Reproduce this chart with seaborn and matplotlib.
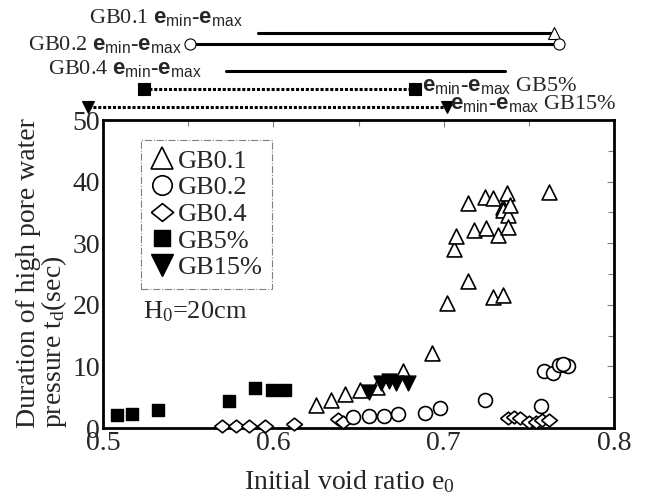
import matplotlib
matplotlib.use('Agg')
import matplotlib.pyplot as plt
import seaborn as sns
from matplotlib.lines import Line2D
from matplotlib.ticker import MultipleLocator

# Initial void ratio e0 / duration td (sec) for each sample
gb01_e = [0.625, 0.634, 0.642, 0.651, 0.661, 0.676, 0.693, 0.702, 0.706, 0.707,
          0.714, 0.714, 0.718, 0.724, 0.725, 0.729, 0.729, 0.732, 0.735, 0.735,
          0.735, 0.737, 0.738, 0.738, 0.739, 0.762]
gb01_t = [3.7, 4.5, 5.6, 6.2, 6.7, 9.2, 12.2, 20.3, 29.1, 31.2,
          36.5, 23.9, 32.1, 37.5, 32.5, 21.3, 37.3, 31.3, 21.6, 35.9,
          35.4, 38.1, 34.6, 32.6, 36.2, 38.3]

gb02_e = [0.647, 0.656, 0.665, 0.673, 0.689, 0.698, 0.724, 0.757, 0.759, 0.764,
          0.768, 0.771, 0.773, 0.770]
gb02_t = [1.8, 1.9, 1.9, 2.2, 2.5, 3.3, 4.5, 3.6, 9.2, 9.0,
          10.2, 10.2, 10.0, 10.4]

gb04_e = [0.570, 0.578, 0.586, 0.595, 0.612, 0.638, 0.641, 0.738, 0.741, 0.745,
          0.750, 0.754, 0.758, 0.762]
gb04_t = [0.3, 0.3, 0.3, 0.4, 0.6, 1.4, 0.9, 1.6, 1.8, 1.6,
          1.0, 1.0, 1.3, 1.3]

gb5_e = [0.508, 0.517, 0.532, 0.574, 0.589, 0.599, 0.607]
gb5_t = [2.1, 2.3, 2.9, 4.4, 6.5, 6.2, 6.2]

gb15_e = [0.656, 0.663, 0.668, 0.672, 0.679]
gb15_t = [5.8, 7.3, 7.6, 7.3, 7.3]

# e_min - e_max ranges shown above the chart
range_names = ['GB0.1', 'GB0.2', 'GB0.4', 'GB5%', 'GB15%']
e_min = [0.591, 0.551, 0.572, 0.524, 0.491]
e_max = [0.765, 0.768, 0.736, 0.683, 0.702]

sns.set_style('white')
plt.rcParams['font.family'] = ['Liberation Serif', 'DejaVu Serif']
plt.rcParams['mathtext.fontset'] = 'custom'
plt.rcParams['mathtext.rm'] = 'Liberation Serif'
plt.rcParams['mathtext.it'] = 'Liberation Serif:italic'
plt.rcParams['mathtext.sf'] = 'Liberation Sans'
plt.rcParams['mathtext.bf'] = 'Liberation Sans:bold'

fig = plt.figure(figsize=(6.48, 4.99), dpi=100)
ax = fig.add_axes([103 / 648, 71 / 499, 511 / 648, 308 / 499])

diamond = [(-1, 0), (0, 0.8), (1, 0), (0, -0.8), (-1, 0)]

# open / filled markers
sns.scatterplot(x=gb04_e, y=gb04_t, marker=diamond, s=130, color='white',
                edgecolor='black', linewidth=1.2, clip_on=False, zorder=3, ax=ax)
sns.scatterplot(x=gb02_e, y=gb02_t, marker='o', s=100, color='white',
                edgecolor='black', linewidth=1.2, clip_on=False, zorder=3, ax=ax)
sns.scatterplot(x=gb01_e, y=gb01_t, marker='^', s=115, color='white',
                edgecolor='black', linewidth=1.2, clip_on=False, zorder=3, ax=ax)
sns.scatterplot(x=gb5_e, y=gb5_t, marker='s', s=75, color='black',
                edgecolor='black', linewidth=1, clip_on=False, zorder=4, ax=ax)
sns.scatterplot(x=gb15_e, y=gb15_t, marker='v', s=115, color='black',
                edgecolor='black', linewidth=1, clip_on=False, zorder=4, ax=ax)

ax.set_xlim(0.5, 0.8)
ax.set_ylim(0, 50)
ax.xaxis.set_minor_locator(MultipleLocator(0.05))
ax.yaxis.set_major_locator(MultipleLocator(10))
ax.yaxis.set_minor_locator(MultipleLocator(5))
ax.set_xticks([0.5, 0.6, 0.7, 0.8])
ax.set_xticklabels(['0.5', '0.6', '0.7', '0.8'])
ax.tick_params(which='both', direction='in', top=True, right=True,
               color='gray', width=0.8, labelsize=20, pad=2)
ax.tick_params(which='major', length=5)
ax.tick_params(which='minor', length=4)
for sp in ax.spines.values():
    sp.set_linewidth(2)
    sp.set_color('black')

ax.set_xlabel('Initial void ratio e$_{\\rm 0}$', fontsize=20)
ax.xaxis.set_label_coords(0.483, -0.175)
ax.xaxis.label.set_va('center')
ax.text(-0.118, 0.0, 'Duration of high pore water\npressure t$_{\\rm d}$(sec)',
        rotation=90, transform=ax.transAxes, ha='center', va='bottom',
        multialignment='left', linespacing=0.9, fontsize=20)

# legend
handles = [
    Line2D([], [], ls='none', marker='^', ms=16, mfc='white', mec='black', mew=1.2),
    Line2D([], [], ls='none', marker='o', ms=14, mfc='white', mec='black', mew=1.2),
    Line2D([], [], ls='none', marker=diamond, ms=16, mfc='white', mec='black', mew=1.2),
    Line2D([], [], ls='none', marker='s', ms=11, mfc='black', mec='black'),
    Line2D([], [], ls='none', marker='v', ms=16, mfc='black', mec='black'),
]
leg = ax.legend(handles, range_names, loc='upper left', bbox_to_anchor=(0.074, 0.935),
                borderaxespad=0, fontsize=19, handlelength=0.9, handletextpad=0.15,
                labelspacing=0.12, borderpad=0.35, fancybox=False, framealpha=1)
leg.get_frame().set_edgecolor('gray')
leg.get_frame().set_linestyle('-.')
leg.get_frame().set_linewidth(0.8)

ax.text(0.078, 0.377, 'H$_{\\rm 0}$=20cm', transform=ax.transAxes,
        ha='left', va='center', fontsize=19)

# e_min - e_max range bars above the axes
levels = [64.1, 62.3, 58.0, 55.0, 52.1]
styles = ['-', '-', '-', (0, (1, 0.6)), (0, (1, 0.6))]
end_marks = [(None, '^', 'white'), ('o', 'o', 'white'), (None, None, None),
             ('s', 's', 'black'), ('v', 'v', 'black')]
for lo, hi, lvl, st, (m0, m1, fc) in zip(e_min, e_max, levels, styles, end_marks):
    ax.plot([lo, hi], [lvl, lvl], color='black', lw=2.2, ls=st, clip_on=False)
    if m0:
        ax.plot([lo], [lvl], marker=m0, ms=8, mfc=fc, mec='black', mew=0.8, clip_on=False)
    if m1:
        ax.plot([hi], [lvl], marker=m1, ms=8, mfc=fc, mec='black', mew=0.8, clip_on=False)

emm = '$\\mathbf{e}_{\\mathsf{min}}$-$\\mathbf{e}_{\\mathsf{max}}$'
ax.text(0.582, 66.6, 'GB0.1 ' + emm, ha='right', va='center', fontsize=16)
ax.text(0.546, 62.3, 'GB0.2 ' + emm, ha='right', va='center', fontsize=16)
ax.text(0.558, 58.3, 'GB0.4 ' + emm, ha='right', va='center', fontsize=16)
ax.text(0.687, 55.6, emm + ' GB5%', ha='left', va='center', fontsize=16)
ax.text(0.704, 52.6, emm + ' GB15%', ha='left', va='center', fontsize=16)

fig.savefig('out.png', dpi=100)
